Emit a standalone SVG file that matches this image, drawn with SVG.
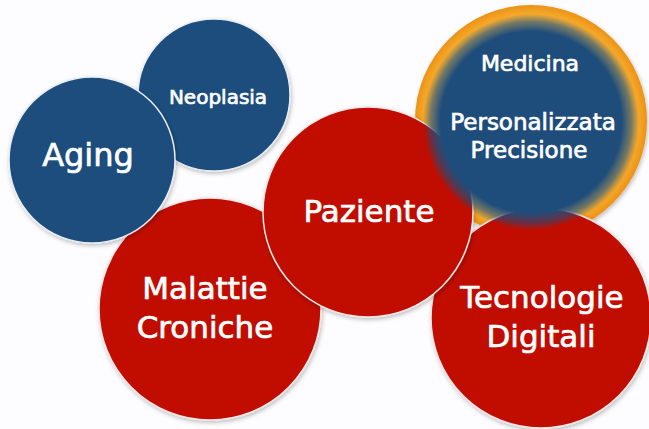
<svg xmlns="http://www.w3.org/2000/svg" width="649" height="429" viewBox="0 0 649 429">
<defs>
<filter id="sh" x="-20%" y="-20%" width="140%" height="140%"><feDropShadow dx="1" dy="2" stdDeviation="2" flood-color="#000" flood-opacity="0.25"/></filter>
<radialGradient id="ring" cx="0.5" cy="0.5" r="0.5">
<stop offset="0.82" stop-color="#f8c24c"/>
<stop offset="0.94" stop-color="#f4a425"/>
<stop offset="1" stop-color="#ea9218"/>
</radialGradient>
<radialGradient id="blue" cx="0.5" cy="0.5" r="0.5">
<stop offset="0.84" stop-color="#1f4d7b" stop-opacity="1"/>
<stop offset="0.93" stop-color="#1f4d7b" stop-opacity="0.6"/>
<stop offset="1" stop-color="#1f4d7b" stop-opacity="0"/>
</radialGradient>
</defs>
<style>
.b{fill:#1f4d7b;stroke:#e8eef4;stroke-width:1.5}
.r{fill:#c00b02;stroke:#f4e6e6;stroke-width:1.5}
.t{font-family:"DejaVu Sans",Verdana,sans-serif;fill:#fff;stroke:#fff;stroke-width:0.7;text-anchor:middle}
</style>
<rect width="649" height="429" fill="#fdfcfe"/>
<g id="medicina-ring"><circle cx="531" cy="121" r="116" fill="url(#ring)" filter="url(#sh)"/></g>
<g id="malattie"><circle class="r" cx="210" cy="309" r="111" filter="url(#sh)"/><text class="t" x="205" y="299" font-size="31">Malattie</text><text class="t" x="205" y="338" font-size="31">Croniche</text></g>
<g id="neoplasia"><circle class="b" cx="214" cy="95" r="76" filter="url(#sh)"/><text class="t" x="218" y="104" font-size="20">Neoplasia</text></g>
<g id="aging"><circle class="b" cx="92" cy="160" r="83" filter="url(#sh)"/><text class="t" x="88" y="166" font-size="32">Aging</text></g>
<g id="tecnologie"><circle class="r" cx="541" cy="318" r="110" filter="url(#sh)"/><text class="t" x="542" y="308" font-size="31">Tecnologie</text><text class="t" x="541" y="347" font-size="31">Digitali</text></g>
<g id="paziente"><circle class="r" cx="368" cy="212" r="105" filter="url(#sh)"/><text class="t" x="369" y="222" font-size="31">Paziente</text></g>
<g id="medicina"><circle cx="531" cy="122" r="108" fill="url(#blue)"/><text class="t" x="530" y="71" font-size="22">Medicina</text><text class="t" x="533" y="130" font-size="23">Personalizzata</text><text class="t" x="529" y="158" font-size="23">Precisione</text></g>
<g id="connectors"/>
</svg>
